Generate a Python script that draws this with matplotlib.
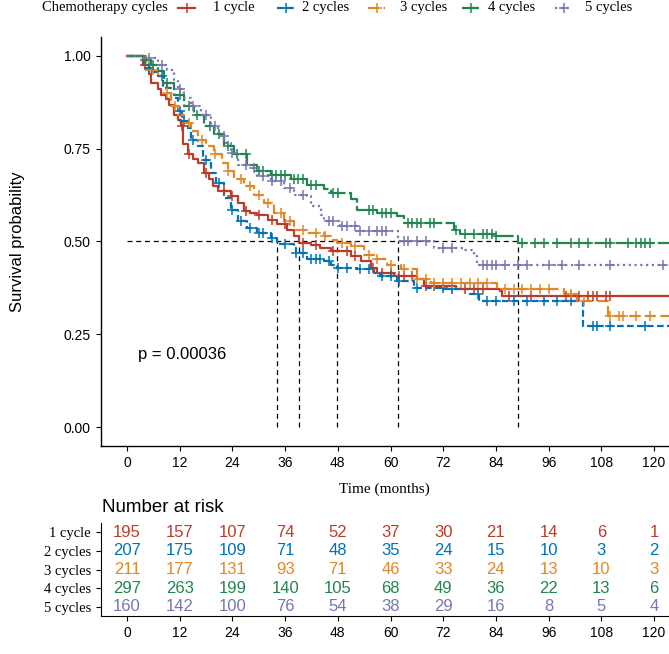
import numpy as np
import matplotlib
matplotlib.use('Agg')
import matplotlib.pyplot as plt
from matplotlib.lines import Line2D

plt.rcParams['font.family'] = ['Liberation Sans', 'DejaVu Sans']
SERIF = ['Liberation Serif', 'DejaVu Serif']

# groups and colours (NEJM palette)
groups = ['1 cycle', '2 cycles', '3 cycles', '4 cycles', '5 cycles']
colors = ['#BC3C29', '#0072B5', '#E18727', '#20854E', '#7876B1']
styles = ['-', (0, (3, 1.5)), (0, (5, 2)), (0, (8, 1.5)), (0, (1, 1.6))]

# Kaplan-Meier steps: time (months) and survival after the step
time_1 = [0, 3.6, 5.0, 5.5, 7.0, 7.7, 8.8, 9.6, 10.8, 11.5, 12.3, 12.7, 13.8, 15.0, 16.1, 17.5,
          18.7, 19.6, 20.6, 23.6, 25.2, 26.7, 28.0, 29.7, 32.0, 34.2, 36.5, 38.0, 39.2, 41.8,
          44.0, 46.4, 50.9, 53.2, 55.5, 57.0, 60.8, 66.0, 67.6, 75.0, 85.0, 85.4]
surv_1 = [1.0, 0.976, 0.95, 0.927, 0.909, 0.895, 0.882, 0.868, 0.841, 0.826, 0.81, 0.761, 0.734,
          0.722, 0.711, 0.685, 0.667, 0.65, 0.635, 0.622, 0.604, 0.581, 0.576, 0.572, 0.559,
          0.546, 0.532, 0.514, 0.497, 0.49, 0.483, 0.474, 0.46, 0.447, 0.429, 0.416, 0.407,
          0.398, 0.38, 0.372, 0.366, 0.353]
cens_1 = [4, 12.6, 14, 18, 22, 24, 27, 30, 33, 36, 40, 43, 47, 50, 52, 56, 58, 60, 62, 63, 65,
          68, 70, 72, 74, 77, 79, 81, 87, 92, 100, 101, 103, 105, 106, 107, 109, 110]

time_2 = [0, 3.9, 5.5, 7.0, 8.1, 10.0, 11.5, 12.5, 13.8, 14.5, 16.1, 17.2, 19.1, 20.2, 22.1, 23.6,
          25.2, 27.4, 29.7, 32.7, 34.2, 38.0, 38.4, 41.0, 44.8, 46.4, 47.9, 52.4, 56.2, 57.7,
          61.5, 65.3, 72.1, 78.2, 80.1, 103.9]
surv_2 = [1.0, 0.967, 0.955, 0.946, 0.913, 0.886, 0.85, 0.825, 0.805, 0.774, 0.756, 0.72, 0.685,
          0.658, 0.617, 0.586, 0.555, 0.537, 0.523, 0.51, 0.492, 0.483, 0.47, 0.452, 0.447,
          0.438, 0.429, 0.425, 0.416, 0.407, 0.394, 0.376, 0.371, 0.358, 0.34, 0.272]
cens_2 = [5, 8, 12, 13, 15, 18, 21, 24, 26, 28, 30, 31, 33, 36, 38.5, 40, 42, 43, 44, 46, 48,
          50, 53, 55, 58, 60, 62, 66, 72, 74, 80, 82, 84, 88, 91, 95, 98, 101, 106, 107, 110, 118]

time_3 = [0, 4.3, 7.0, 8.1, 9.0, 10.0, 11.5, 13.0, 14.5, 16.1, 18.0, 19.8, 21.7, 22.9, 24.4, 26.7,
          29.0, 31.2, 33.5, 35.8, 38.0, 41.0, 44.8, 46.4, 47.9, 50.9, 53.9, 56.2, 59.2, 62.3,
          66.0, 69.1, 84.2, 99.4, 102.4, 109.6]
surv_3 = [1.0, 0.962, 0.946, 0.927, 0.9, 0.864, 0.841, 0.819, 0.797, 0.774, 0.756, 0.734, 0.711,
          0.69, 0.667, 0.649, 0.626, 0.604, 0.577, 0.555, 0.532, 0.523, 0.514, 0.505, 0.495,
          0.487, 0.465, 0.452, 0.438, 0.425, 0.398, 0.389, 0.371, 0.358, 0.34, 0.299]
cens_3 = [6, 9, 11, 14, 17, 20, 23, 26, 28, 30, 32, 35, 37, 40, 43, 45, 49, 52, 55, 57, 60, 63,
          66, 68, 70, 72, 74, 76, 78, 80, 82, 86, 88, 90, 92, 94, 96, 101, 104, 110, 112, 113,
          116, 119]

time_4 = [0, 3.6, 5.5, 7.0, 8.5, 10.8, 13.0, 15.3, 17.6, 19.8, 22.1, 24.4, 27.4, 29.7, 32.7, 37.3,
          41.0, 44.8, 46.4, 50.9, 52.4, 57.0, 61.5, 63.0, 74.4, 75.9, 83.5, 89.0]
surv_4 = [1.0, 0.989, 0.976, 0.959, 0.927, 0.895, 0.864, 0.841, 0.81, 0.788, 0.756, 0.734, 0.707,
          0.69, 0.68, 0.667, 0.653, 0.64, 0.631, 0.613, 0.586, 0.577, 0.568, 0.55, 0.532, 0.519,
          0.514, 0.496]
cens_4 = [4, 6, 9, 12, 14, 16, 19, 21, 23, 25, 27, 30, 31, 33, 34, 35, 36, 38, 39, 40, 42, 43,
          47, 48, 55, 56, 58, 59, 60, 64, 65, 66, 67, 69, 70, 75, 77, 79, 81, 82, 83, 84, 90, 93,
          95, 98, 101, 103, 105, 109, 110, 114, 116, 117, 118, 119]

time_5 = [0, 3.2, 7.0, 9.2, 10.8, 11.5, 13.0, 14.5, 16.8, 19.1, 20.6, 22.1, 23.6, 25.2, 28.2, 29.7,
          32.7, 35.8, 38.0, 41.0, 41.8, 44.1, 44.8, 48.6, 52.4, 61.7, 69.9, 76.7, 79.0, 79.7]
surv_5 = [1.0, 0.994, 0.976, 0.962, 0.935, 0.909, 0.886, 0.864, 0.841, 0.81, 0.784, 0.766, 0.739,
          0.707, 0.698, 0.677, 0.662, 0.644, 0.626, 0.622, 0.595, 0.572, 0.555, 0.541, 0.528,
          0.5, 0.483, 0.478, 0.46, 0.438]
cens_5 = [5, 8, 12, 15, 18, 20, 22, 24, 27, 29, 31, 33, 35, 37, 40, 46, 47, 49, 50, 52, 53, 55,
          57, 58, 59, 63, 64, 66, 68, 72, 74, 81, 82, 83, 84, 86, 89, 91, 96, 99, 103, 110, 122]

follow_up_end = 125
medians = [39.2, 34.2, 47.9, 89.0, 61.7]
p_text = 'p = 0.00036'

# number at risk table
risk_times = [0, 12, 24, 36, 48, 60, 72, 84, 96, 108, 120]
risk_1 = [195, 157, 107, 74, 52, 37, 30, 21, 14, 6, 1]
risk_2 = [207, 175, 109, 71, 48, 35, 24, 15, 10, 3, 2]
risk_3 = [211, 177, 131, 93, 71, 46, 33, 24, 13, 10, 3]
risk_4 = [297, 263, 199, 140, 105, 68, 49, 36, 22, 13, 6]
risk_5 = [160, 142, 100, 76, 54, 38, 29, 16, 8, 5, 4]

times = [time_1, time_2, time_3, time_4, time_5]
survs = [surv_1, surv_2, surv_3, surv_4, surv_5]
censs = [cens_1, cens_2, cens_3, cens_4, cens_5]
risks = [risk_1, risk_2, risk_3, risk_4, risk_5]

W, H = 669, 654
fig = plt.figure(figsize=(W / 100, H / 100), dpi=100)

# main survival panel
ax = fig.add_axes([100.7 / W, 1 - 446 / H, 1 - 100.7 / W, (446 - 37) / H])
XLIM = (-6, (W - 126) / 4.4)
ax.set_xlim(*XLIM)
ax.set_ylim(-0.05, 1.05)

lw = 1.6
for t, s, cz, col, ls in zip(times, survs, censs, colors, styles):
    tt = np.append(t, follow_up_end)
    ss = np.append(s, s[-1])
    ax.step(tt, ss, where='post', color=col, lw=lw, linestyle=ls, zorder=3)
    # censor marks sit on the step curve
    idx = np.searchsorted(t, cz, side='right') - 1
    ax.plot(cz, np.array(s)[idx], linestyle='none', marker='+', ms=7, mew=1.1,
            color=col, zorder=4)

# median survival lines
ax.plot([0, max(medians)], [0.5, 0.5], color='black', lw=0.9, ls=(0, (4, 3)), zorder=2)
for m in medians:
    ax.plot([m, m], [0, 0.5], color='black', lw=0.9, ls=(0, (4, 3)), zorder=2)

ax.text(2.5, 0.196, p_text, fontsize=12, ha='left', va='center')

ax.set_xticks(risk_times)
ax.set_yticks([0, 0.25, 0.5, 0.75, 1.0])
ax.set_yticklabels(['0.00', '0.25', '0.50', '0.75', '1.00'])
ax.tick_params(labelsize=10, length=3.5, width=0.8, colors='black')
for sp in ['top', 'right']:
    ax.spines[sp].set_visible(False)
for sp in ['left', 'bottom']:
    ax.spines[sp].set_linewidth(1.0)
ax.set_ylabel('Survival probability', fontsize=12, labelpad=28)
ax.set_xlabel('Time (months)', fontsize=11, family=SERIF, labelpad=9)

# legend drawn across the top
fig.text(42 / W, 1 - 8 / H, 'Chemotherapy cycles', family=SERIF, fontsize=10.5,
         ha='left', va='center')
key_x = [178, 277, 368, 462, 555]
lab_x = [213, 302, 400, 488, 585]
for kx, lx, g, col, ls in zip(key_x, lab_x, groups, colors, styles):
    y = 1 - 8 / H
    fig.add_artist(Line2D([kx / W, (kx + 17) / W], [y, y], transform=fig.transFigure,
                          color=col, lw=lw, linestyle=ls))
    fig.add_artist(Line2D([(kx + 8.5) / W], [y], transform=fig.transFigure, color=col,
                          marker='+', ms=7, mew=1.1, linestyle='none'))
    fig.text(lx / W, y, g, family=SERIF, fontsize=10.5, ha='left', va='center')

# risk table
axr = fig.add_axes([100.7 / W, 1 - 616 / H, 1 - 100.7 / W, (616 - 523) / H])
axr.set_xlim(*XLIM)
axr.set_ylim(5.5, 0.5)
for i, (r, col) in enumerate(zip(risks, colors)):
    for t, n in zip(risk_times, r):
        axr.text(t, i + 1, str(n), color=col, fontsize=12, ha='center', va='center')
axr.set_yticks(range(1, 6))
axr.set_yticklabels(groups, family=SERIF, fontsize=10.5)
axr.set_xticks(risk_times)
axr.tick_params(labelsize=10, length=3.5, width=0.8)
for lab in axr.get_yticklabels():
    lab.set_fontfamily(SERIF)
    lab.set_fontsize(10.5)
for sp in ['top', 'right']:
    axr.spines[sp].set_visible(False)
fig.text(102 / W, 1 - 507 / H, 'Number at risk', fontsize=13.5, ha='left', va='center')

fig.savefig('out.png', dpi=100)
